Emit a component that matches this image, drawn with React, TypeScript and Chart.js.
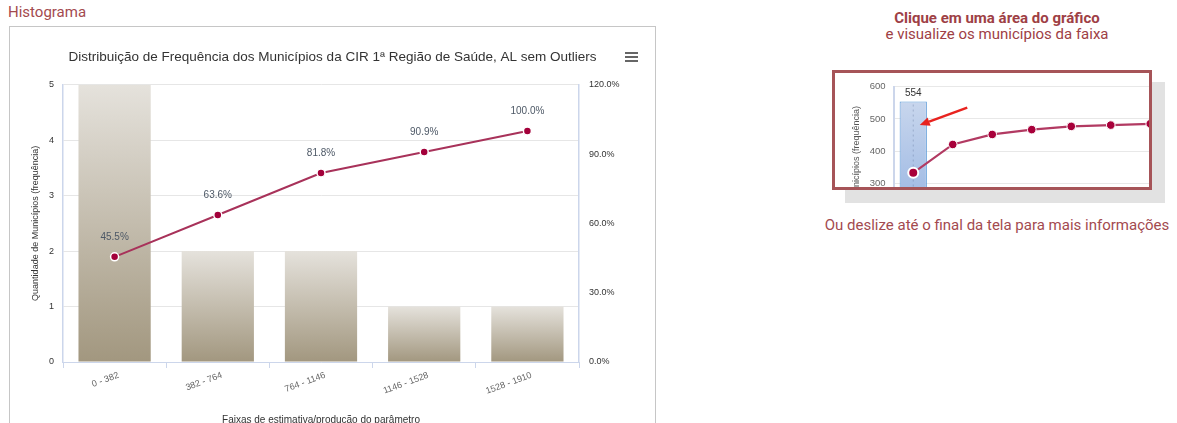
import React, { useEffect, useRef } from 'react';
import { Chart, registerables } from 'chart.js';

Chart.register(...registerables);

// ---- Main chart data ----
const categories = ['0 - 382', '382 - 764', '764 - 1146', '1146 - 1528', '1528 - 1910'];
const frequencies = [5, 2, 2, 1, 1];
const cumulativePct = [45.5, 63.6, 81.8, 90.9, 100.0];
const leftAxisMax = 5;
const rightAxisMax = 120;
const rightAxisStep = 30;

// ---- Mini illustration data ----
const miniCategories = ['1', '2', '3', '4', '5', '6', '7'];
const miniBars = [554, 146, 52, 25, 17, 7, 7];
const miniLine = [333, 421, 452, 467, 477, 481, 485];
const miniAxisMax = 600;

const SANS = '"Liberation Sans", Arial, sans-serif';
const ROBOTO = 'Roboto, "Noto Sans", sans-serif';

const pctLabelPlugin = {
  id: 'pctLabels',
  afterDatasetsDraw(chart: any) {
    const meta = chart.getDatasetMeta(0);
    const ctx = chart.ctx;
    ctx.save();
    ctx.font = `10px ${SANS}`;
    ctx.fillStyle = '#4d5866';
    ctx.textAlign = 'center';
    ctx.textBaseline = 'middle';
    meta.data.forEach((pt: any, i: number) => {
      ctx.fillText(cumulativePct[i].toFixed(1) + '%', pt.x, pt.y - 20);
    });
    ctx.restore();
  },
};

const miniDecorPlugin = {
  id: 'miniDecor',
  afterDatasetDraw(chart: any, args: any) {
    if (args.index !== 1) return;
    const bar = chart.getDatasetMeta(1).data[0];
    const ctx = chart.ctx;
    ctx.save();
    ctx.strokeStyle = 'rgba(90,110,150,0.35)';
    ctx.setLineDash([2, 3]);
    ctx.lineWidth = 1;
    ctx.beginPath();
    ctx.moveTo(bar.x, bar.y + 3);
    ctx.lineTo(bar.x, chart.chartArea.bottom);
    ctx.stroke();
    ctx.restore();
  },
  afterDatasetsDraw(chart: any) {
    const bar = chart.getDatasetMeta(1).data[0];
    const ys = chart.scales.y;
    const ctx = chart.ctx;
    ctx.save();
    ctx.font = `10px ${SANS}`;
    ctx.fillStyle = '#333';
    ctx.textAlign = 'center';
    ctx.textBaseline = 'middle';
    ctx.fillText(String(miniBars[0]), bar.x, bar.y - 8);
    // arrow
    const tipX = bar.x + 6.5;
    const tipY = ys.getPixelForValue(481);
    const tailX = tipX + 47.5;
    const tailY = tipY - 17.5;
    const ang = Math.atan2(tipY - tailY, tipX - tailX);
    const headLen = 10;
    const headW = 4.5;
    const bx = tipX - headLen * Math.cos(ang);
    const by = tipY - headLen * Math.sin(ang);
    ctx.strokeStyle = '#e8231f';
    ctx.fillStyle = '#e8231f';
    ctx.lineWidth = 2.5;
    ctx.beginPath();
    ctx.moveTo(tailX, tailY);
    ctx.lineTo(bx, by);
    ctx.stroke();
    ctx.beginPath();
    ctx.moveTo(tipX, tipY);
    ctx.lineTo(bx + headW * Math.sin(ang), by - headW * Math.cos(ang));
    ctx.lineTo(bx - headW * Math.sin(ang), by + headW * Math.cos(ang));
    ctx.closePath();
    ctx.fill();
    ctx.restore();
  },
};

export default function App() {
  const mainRef = useRef<HTMLCanvasElement | null>(null);
  const miniRef = useRef<HTMLCanvasElement | null>(null);

  useEffect(() => {
    if (!mainRef.current) return;
    const chart = new Chart(mainRef.current, {
      type: 'bar',
      data: {
        labels: categories,
        datasets: [
          {
            type: 'line',
            label: 'Acumulado',
            data: cumulativePct,
            yAxisID: 'y1',
            borderColor: '#a8325a',
            borderWidth: 2,
            pointRadius: 4,
            pointBackgroundColor: '#a3003a',
            pointBorderColor: '#ffffff',
            pointBorderWidth: 1.5,
            tension: 0,
          } as any,
          {
            type: 'bar',
            label: 'Frequência',
            data: frequencies,
            yAxisID: 'y',
            barPercentage: 0.7,
            categoryPercentage: 1,
            backgroundColor: (c: any) => {
              const chart = c.chart;
              if (!chart.chartArea || c.type !== 'data') return '#c8c0b0';
              const y = chart.scales.y;
              const top = y.getPixelForValue(c.parsed.y);
              const bottom = y.getPixelForValue(0);
              const g = chart.ctx.createLinearGradient(0, top, 0, bottom);
              g.addColorStop(0, '#e5e2dc');
              g.addColorStop(1, '#a2977f');
              return g;
            },
          } as any,
        ],
      },
      options: {
        responsive: false,
        animation: false,
        devicePixelRatio: 1,
        layout: { padding: 0 },
        plugins: {
          legend: { display: false },
          tooltip: { enabled: false },
          title: {
            display: true,
            text: 'Distribuição de Frequência dos Municípios da CIR 1ª Região de Saúde, AL sem Outliers',
            color: '#333333',
            font: { size: 13.5, weight: 'normal', family: SANS },
            padding: { top: 22, bottom: 19.5 },
          },
        },
        scales: {
          x: {
            offset: true,
            grid: { offset: true, drawOnChartArea: false, drawTicks: true, tickLength: 6, color: '#ccd6eb' },
            border: { display: true, color: '#ccd6eb', width: 1 },
            ticks: {
              autoSkip: false,
              minRotation: 20,
              maxRotation: 20,
              padding: 2,
              labelOffset: 4,
              color: '#666666',
              font: { size: 9, family: SANS },
            },
            title: {
              display: true,
              text: 'Faixas de estimativa/produção do parâmetro',
              color: '#333333',
              font: { size: 10, family: SANS },
              padding: { top: 0, bottom: 1 },
            },
            afterFit: (s: any) => { s.height = 65; },
          },
          y: {
            position: 'left',
            min: 0,
            max: leftAxisMax,
            ticks: { stepSize: 1, padding: 9, color: '#333333', font: { size: 9, family: SANS } },
            grid: { color: '#e6e6e6', drawTicks: false },
            border: { display: true, color: '#ccd6eb', width: 1.5 },
            title: {
              display: true,
              text: 'Quantidade de Municípios (frequência)',
              color: '#333333',
              font: { size: 9, family: SANS },
              padding: { top: 20, bottom: 0 },
            },
            afterFit: (s: any) => { s.width = 53; },
          },
          y1: {
            position: 'right',
            min: 0,
            max: rightAxisMax,
            ticks: {
              stepSize: rightAxisStep,
              padding: 10,
              color: '#333333',
              font: { size: 9, family: SANS },
              callback: (v: any) => Number(v).toFixed(1) + '%',
            },
            grid: { drawOnChartArea: false, drawTicks: false },
            border: { display: true, color: '#ccd6eb', width: 1.5 },
            afterFit: (s: any) => { s.width = 76; },
          },
        },
      } as any,
      plugins: [pctLabelPlugin],
    });
    return () => chart.destroy();
  }, []);

  useEffect(() => {
    if (!miniRef.current) return;
    const chart = new Chart(miniRef.current, {
      type: 'bar',
      data: {
        labels: miniCategories,
        datasets: [
          {
            type: 'line',
            data: miniLine,
            borderColor: '#b23a62',
            borderWidth: 2.2,
            pointRadius: (c: any) => (c.dataIndex === 0 ? 5 : 4.3),
            pointBackgroundColor: '#a8003a',
            pointBorderColor: '#ffffff',
            pointBorderWidth: (c: any) => (c.dataIndex === 0 ? 2 : 1),
            tension: 0,
          } as any,
          {
            type: 'bar',
            data: miniBars,
            barPercentage: 0.69,
            categoryPercentage: 1,
            borderColor: '#5b9ad8',
            borderWidth: 1,
            backgroundColor: (c: any) => {
              const chart = c.chart;
              if (!chart.chartArea || c.type !== 'data') return '#a9c0e6';
              const y = chart.scales.y;
              const top = y.getPixelForValue(c.parsed.y);
              const bottom = y.getPixelForValue(0);
              const g = chart.ctx.createLinearGradient(0, top, 0, bottom);
              g.addColorStop(0, '#c8d6ed');
              g.addColorStop(1, '#7ea3dc');
              return g;
            },
          } as any,
        ],
      },
      options: {
        responsive: false,
        animation: false,
        devicePixelRatio: 1,
        layout: { padding: { top: 7.5, left: 0, right: 0, bottom: 0 } },
        plugins: { legend: { display: false }, tooltip: { enabled: false } },
        scales: {
          x: { display: false, offset: true },
          y: {
            min: 0,
            max: miniAxisMax,
            ticks: { stepSize: 100, padding: 8, color: '#666666', font: { size: 9.5, family: SANS } },
            grid: { color: '#e8e8e8', drawTicks: false },
            border: { display: true, color: '#ccd6eb', width: 2 },
            title: {
              display: true,
              text: 'Quantidade de Municípios (frequência)',
              color: '#555555',
              font: { size: 9, family: SANS },
              padding: { top: 16, bottom: 0 },
            },
            afterFit: (s: any) => { s.width = 58.5; },
          },
        },
      } as any,
      plugins: [miniDecorPlugin],
    });
    return () => chart.destroy();
  }, []);

  const barLine: React.CSSProperties = {
    position: 'absolute', left: 0, width: 13, height: 1.6, background: '#666',
  };

  return (
    <div style={{ position: 'absolute', left: 0, top: 0, width: 1177, height: 423, overflow: 'hidden', background: '#fff' }}>
      <div style={{ position: 'absolute', left: 8, top: 3, fontFamily: ROBOTO, fontSize: 15, lineHeight: '18px', color: '#a34a4f' }}>
        Histograma
      </div>
      <div style={{ position: 'absolute', left: 9, top: 26, width: 647, height: 420, border: '1px solid #c6c6c6', boxSizing: 'border-box' }}>
        <canvas ref={mainRef} width={645} height={400} style={{ display: 'block', width: 645, height: 400 }} />
        <div style={{ position: 'absolute', left: 615, top: 25, width: 13, height: 10 }}>
          <div style={{ ...barLine, top: 0 }} />
          <div style={{ ...barLine, top: 4 }} />
          <div style={{ ...barLine, top: 8 }} />
        </div>
      </div>
      <div style={{ position: 'absolute', left: 797, top: 10, width: 400, textAlign: 'center', fontFamily: ROBOTO, fontSize: 15, lineHeight: '16px', color: '#9e4045' }}>
        <div style={{ fontWeight: 700 }}>Clique em uma área do gráfico</div>
        <div>e visualize os municípios da faixa</div>
      </div>
      <div style={{ position: 'absolute', left: 845, top: 82, width: 320, height: 121, background: '#e2e2e2' }} />
      <div style={{ position: 'absolute', left: 832, top: 70, width: 320, height: 120, border: '3px solid #a65458', boxSizing: 'border-box', background: '#fff', overflow: 'hidden' }}>
        <canvas ref={miniRef} width={342} height={221} style={{ position: 'absolute', left: 0, top: 0, width: 342, height: 221 }} />
      </div>
      <div style={{ position: 'absolute', left: 797, top: 216, width: 400, textAlign: 'center', fontFamily: ROBOTO, fontSize: 15, lineHeight: '18px', color: '#a34a4f' }}>
        Ou deslize até o final da tela para mais informações
      </div>
    </div>
  );
}
